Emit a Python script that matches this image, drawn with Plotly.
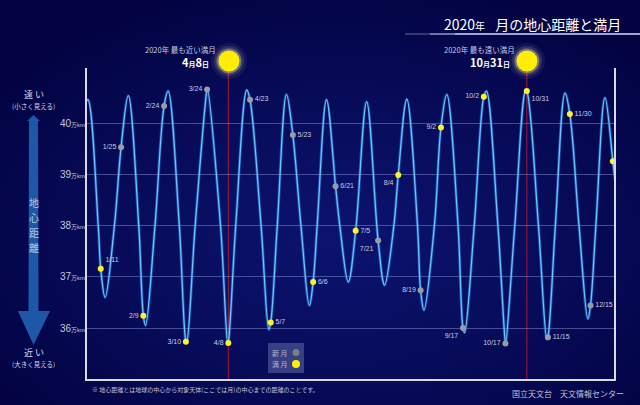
import base64, struct, zlib, math
import plotly.graph_objects as go

# ---------------- data (distance in 万km, times JST) ----------------
extreme_times = [
    "2020-01-01 00:00", "2020-01-02 10:29", "2020-01-14 05:20", "2020-01-30 06:28",
    "2020-02-11 05:28", "2020-02-26 20:35", "2020-03-10 15:34", "2020-03-25 00:23",
    "2020-04-08 03:08", "2020-04-21 04:00", "2020-05-06 12:03", "2020-05-18 16:45",
    "2020-06-03 12:38", "2020-06-15 09:58", "2020-06-30 11:11", "2020-07-13 04:27",
    "2020-07-25 13:02", "2020-08-09 22:47", "2020-08-21 19:58", "2020-09-06 15:30",
    "2020-09-18 22:47", "2020-10-04 02:23", "2020-10-17 08:46", "2020-10-31 03:46",
    "2020-11-14 20:48", "2020-11-27 09:29", "2020-12-13 05:41", "2020-12-25 01:32",
    "2021-01-01 00:00",
]
extreme_dist = [
    40.42, 40.46, 36.60, 40.54,
    36.05, 40.63, 35.71, 40.67,
    35.69, 40.65, 35.97, 40.56,
    36.44, 40.46, 36.90, 40.42,
    36.84, 40.47, 36.35, 40.56,
    35.91, 40.63, 35.69, 40.64,
    35.78, 40.59, 36.18, 40.50,
    38.90,
]

# times where the curve crosses the 38万km grid line
cross_times = [
    "2020-01-09 11:00", "2020-01-20 16:00", "2020-02-06 12:00", "2020-02-17 17:30",
    "2020-03-05 13:30", "2020-03-16 13:00", "2020-04-03 02:00", "2020-04-13 14:30",
    "2020-05-01 03:00", "2020-05-12 08:00", "2020-05-28 17:00", "2020-06-08 22:20",
    "2020-06-24 14:30", "2020-08-01 00:00", "2020-08-17 08:40", "2020-08-29 01:00",
    "2020-09-14 09:50", "2020-09-25 15:00", "2020-10-11 23:45", "2020-10-23 16:00",
    "2020-11-09 01:00", "2020-11-20 17:30", "2020-12-07 02:10", "2020-12-18 18:40",
]
cross_dist = [38.0] * len(cross_times)

full_times = [
    "2020-01-11 04:21", "2020-02-09 16:33", "2020-03-10 02:48", "2020-04-08 11:35",
    "2020-05-07 19:45", "2020-06-06 04:12", "2020-07-05 13:44", "2020-08-04 00:59",
    "2020-09-02 14:22", "2020-10-02 06:05", "2020-10-31 23:49", "2020-11-30 18:30",
    "2020-12-30 12:28",
]
full_dist = [37.16, 36.24, 35.73, 35.71, 36.11, 36.90, 37.90, 38.99, 39.92, 40.52, 40.63, 40.18, 39.26]
full_labels = ["1/11", "2/9", "3/10", "4/8", "5/7", "6/6", "7/5", "8/4", "9/2", "10/2", "10/31", "11/30", "12/30"]
full_textpos = ["top right", "middle left", "middle left", "middle left", "middle right", "middle right",
                "middle right", "bottom left", "middle left", "middle left", "bottom right", "middle right",
                "middle right"]

new_times = [
    "2020-01-25 06:42", "2020-02-24 00:32", "2020-03-24 18:28", "2020-04-23 11:26",
    "2020-05-23 02:39", "2020-06-21 15:41", "2020-07-21 02:33", "2020-08-19 11:42",
    "2020-09-17 20:00", "2020-10-17 04:31", "2020-11-15 14:07", "2020-12-15 01:17",
]
new_dist = [39.53, 40.34, 40.66, 40.46, 39.77, 38.77, 37.71, 36.74, 36.00, 35.70, 35.82, 36.44]
new_labels = ["1/25", "2/24", "3/24", "4/23", "5/23", "6/21", "7/21", "8/19", "9/17", "10/17", "11/15", "12/15"]
new_textpos = ["middle left", "middle left", "middle left", "middle right", "middle right", "middle right",
               "bottom left", "middle left", "bottom left", "middle left", "middle right", "middle right"]

ytick_vals = [36, 37, 38, 39, 40]
ytick_text = ["%d<span style='font-size:6px'>万km</span>" % v for v in ytick_vals]

nearest_full = "2020-04-08 11:35"
farthest_full = "2020-10-31 23:49"

# ---------------- layout helpers ----------------
W, H = 640, 405
L, R, T, B = 86, 615, 68, 380


def px(X):
    return (X - L) / (R - L)


def py(Y):
    return (B - Y) / (B - T)


def make_png(w, h, fn):
    rows = []
    for j in range(h):
        row = bytearray([0])
        for i in range(w):
            row += bytes(fn(i / (w - 1), j / (h - 1)))
        rows.append(bytes(row))
    raw = b"".join(rows)

    def chunk(t, d):
        c = struct.pack(">I", len(d)) + t + d
        return c + struct.pack(">I", zlib.crc32(t + d) & 0xffffffff)

    png = (b"\x89PNG\r\n\x1a\n"
           + chunk(b"IHDR", struct.pack(">IIBBBBB", w, h, 8, 2, 0, 0, 0))
           + chunk(b"IDAT", zlib.compress(raw, 9))
           + chunk(b"IEND", b""))
    return "data:image/png;base64," + base64.b64encode(png).decode()


EDGE = (3, 3, 66)
CENTER = (12, 20, 112)


def bg(u, v):
    X, Y = u * W, v * H
    d = math.sqrt(((X - 340) / 430) ** 2 + ((Y - 240) / 270) ** 2)
    t = max(0.0, 1 - d) ** 0.9
    return tuple(int(EDGE[k] + (CENTER[k] - EDGE[k]) * t) for k in range(3))


bg_uri = make_png(128, 81, bg)

# ---------------- curve ----------------
pts = sorted(zip(extreme_times + cross_times + full_times + new_times,
                 extreme_dist + cross_dist + full_dist + new_dist))
curve_x = [p[0] for p in pts]
curve_y = [p[1] for p in pts]

JP = "Noto Sans CJK JP, Noto Sans, sans-serif"
LAT = "Liberation Sans, Arial, Noto Sans CJK JP, sans-serif"
TXT = "#c8cce0"

fig = go.Figure()
fig.add_trace(go.Scatter(x=curve_x, y=curve_y, mode="lines",
                         line=dict(color="rgba(40,135,230,0.5)", width=3.0, shape="spline", smoothing=1.0),
                         hoverinfo="skip", showlegend=False))
fig.add_trace(go.Scatter(x=curve_x, y=curve_y, mode="lines",
                         line=dict(color="#6cc4fa", width=1.3, shape="spline", smoothing=1.0),
                         hoverinfo="skip", showlegend=False))
fig.add_trace(go.Scatter(x=new_times, y=new_dist, mode="markers+text",
                         marker=dict(color="#9a9aa8", size=6),
                         text=new_labels, textposition=new_textpos,
                         textfont=dict(family=LAT, size=7, color=TXT),
                         hoverinfo="skip", showlegend=False))
fig.add_trace(go.Scatter(x=full_times, y=full_dist, mode="markers+text",
                         marker=dict(color="#fff22a", size=6),
                         text=full_labels, textposition=full_textpos,
                         textfont=dict(family=LAT, size=7, color=TXT),
                         hoverinfo="skip", showlegend=False))

shapes = []
shapes.append(dict(type="path", xref="paper", yref="paper", path="M 0,1 L 0,0 L 1,0 L 1,1",
                   line=dict(color="#d8dae8", width=2)))
for t in (nearest_full, farthest_full):
    shapes.append(dict(type="line", xref="x", yref="paper", x0=t, x1=t, y0=0, y1=py(61),
                       line=dict(color="#a81838", width=1), layer="below"))


def circle(X, Y, r, color):
    return dict(type="circle", xref="paper", yref="paper", xsizemode="pixel", ysizemode="pixel",
                xanchor=px(X), yanchor=py(Y), x0=-r, x1=r, y0=-r, y1=r,
                fillcolor=color, line=dict(width=0))


for MX in (229, 527):
    shapes.append(circle(MX, 61, 18, "rgba(255,255,210,0.06)"))
    shapes.append(circle(MX, 61, 15, "rgba(255,255,200,0.12)"))
    shapes.append(circle(MX, 61, 12.5, "rgba(255,250,170,0.35)"))
    shapes.append(circle(MX, 61, 10.5, "#ffee00"))

for x0, x1, a in ((405, 430, 0.25), (430, 455, 0.55), (455, 640, 0.8)):
    shapes.append(dict(type="line", xref="paper", yref="paper", x0=px(x0), x1=px(x1), y0=py(34), y1=py(34),
                       line=dict(color="rgba(200,205,235,%s)" % a, width=2)))

arrow_pts = [(33.5, 115), (40, 121), (38, 121), (38.5, 311), (50, 311), (33.5, 345), (18, 311),
             (28.5, 311), (29, 121), (27, 121)]
path = "M " + " L ".join("%.5f,%.5f" % (px(a), py(b)) for a, b in arrow_pts) + " Z"
shapes.append(dict(type="path", xref="paper", yref="paper", path=path,
                   fillcolor="#1d58a8", line=dict(width=0)))

shapes.append(dict(type="rect", xref="paper", yref="paper", x0=px(268), x1=px(304), y0=py(373), y1=py(343),
                   fillcolor="rgba(95,105,165,0.55)", line=dict(width=0)))
shapes.append(circle(296, 352.5, 3.5, "#7c7c86"))
shapes.append(circle(296, 364, 4, "#fff000"))

ann = []


def text(X, Y, s, size, color=TXT, anchor="center", family=JP):
    ann.append(dict(x=px(X), y=py(Y), xref="paper", yref="paper", text=s, showarrow=False,
                    xanchor=anchor, yanchor="middle", borderpad=0,
                    font=dict(family=family, size=size, color=color)))


text(622, 24, "2020<span style='font-size:10px'>年</span>\u2002 月の地心距離と満月", 14, "#ffffff", "right")
text(180, 50, "2020年 最も近い満月", 7.5)
text(210, 62, "<b>4<span style='font-size:7px'>月</span>8<span style='font-size:7px'>日</span></b>", 11,
     "#ffffff", "right")
text(479, 50, "2020年 最も遠い満月", 7.5)
text(511, 62, "<b>10<span style='font-size:7px'>月</span>31<span style='font-size:7px'>日</span></b>", 11,
     "#ffffff", "right")
text(33.5, 94, "遠 い", 9, "#d0d6ea")
text(33.5, 105.5, "(小さく見える)", 6.5, "#d0d6ea")
for ch, Y in zip("地心距離", (202.5, 217.5, 232.5, 247.5)):
    text(33.5, Y, ch, 10, "#b8c6e4")
text(33.5, 352, "近 い", 9, "#d0d6ea")
text(33.5, 363.5, "(大きく見える)", 6.5, "#d0d6ea")
text(280, 352.5, "新 月", 7, "#b4b8cc")
text(280, 364, "満 月", 7, "#b4b8cc")
text(91, 389.5, "※ 地心距離とは地球の中心から対象天体(ここでは月)の中心までの距離のことです。", 6, "#c0c4d8", "left")
text(625, 393, "国立天文台　天文情報センター", 8, "#c0c4d8", "right")

fig.update_layout(
    width=W, height=H,
    margin=dict(l=L, r=W - R, t=T, b=H - B),
    paper_bgcolor="rgb(3,3,66)",
    plot_bgcolor="rgba(0,0,0,0)",
    images=[dict(source=bg_uri, xref="paper", yref="paper", x=px(0), y=py(0), sizex=W / (R - L),
                 sizey=H / (B - T), sizing="stretch", xanchor="left", yanchor="top", layer="below")],
    shapes=shapes,
    annotations=ann,
    xaxis=dict(type="date", range=["2020-01-01", "2021-01-01"], showgrid=False, zeroline=False,
               showticklabels=False, showline=False, ticks="", fixedrange=True),
    yaxis=dict(range=[34.985, 41.08], tickvals=ytick_vals, ticktext=ytick_text, showgrid=True,
               gridcolor="rgba(150,160,225,0.45)", gridwidth=1, zeroline=False, showline=False, ticks="",
               tickfont=dict(family=LAT, size=10, color="#c4c8dc"), fixedrange=True),
    font=dict(family=JP),
)

fig.write_html("out.html", config={"displayModeBar": False},
               post_script="document.body.style.margin='0';document.body.style.background='rgb(3,3,66)';")
